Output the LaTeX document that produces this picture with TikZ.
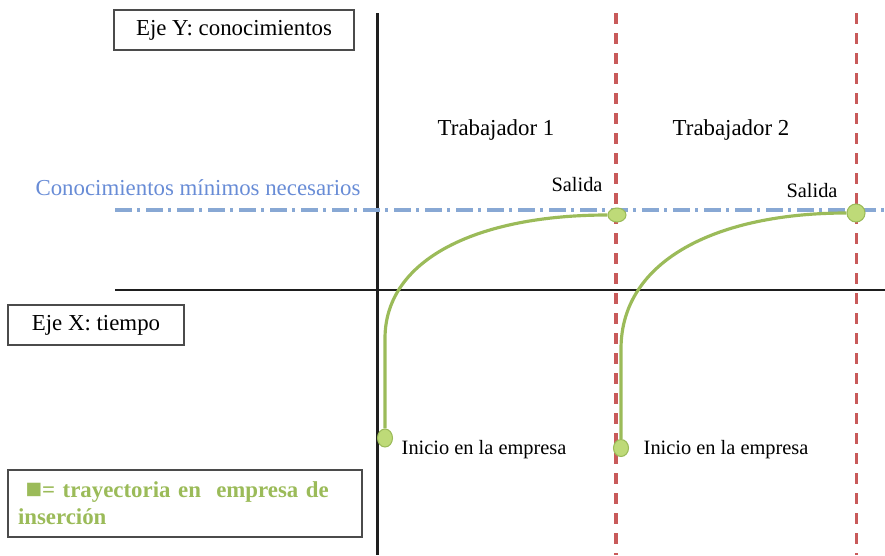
\documentclass[tikz,border=0pt]{standalone}
\usepackage{fontspec}
\setmainfont{Liberation Serif}
\newfontfamily\symfont{DejaVu Sans}
\usepackage{tikz}
\usetikzlibrary{%
  shapes, shapes.geometric, calc, positioning
}
\usepackage{xcolor}
\definecolor{ejenegro}{RGB}{30,30,30}
\definecolor{ejegris}{RGB}{75,75,75}
\definecolor{rojolim}{RGB}{200,90,90}
\definecolor{azulmin}{RGB}{136,168,212}
\definecolor{azultxt}{RGB}{104,140,214}
\definecolor{trayverde}{RGB}{155,187,89}
\definecolor{puntoverde}{RGB}{190,218,120}
\tikzstyle{ebox} = [%
  rectangle,
  draw=ejegris,
  line width=1.1pt,
  minimum height=0.8cm,
  inner sep=2pt,
  text centered
]
\tikzstyle{punto} = [%
  ellipse,
  draw=trayverde,
  fill=puntoverde,
  line width=0.6pt,
  inner sep=0pt
]

\begin{document}
\begin{tikzpicture}[%
  every node/.style={%
    font=\fontsize{13}{15.5}\selectfont,
    text=black,
    align=center
  },
  lbl/.style={font=\fontsize{11.6}{13}\selectfont},
  axis/.style={draw=ejenegro,line width=1.5pt},
  limite/.style={draw=rojolim,line width=2pt,dash pattern=on 0.22cm off 0.18cm},
  minimo/.style={draw=azulmin,line width=2.2pt,dash pattern=on 0.34cm off 0.1cm on 0.06cm off 0.12cm},
  tray/.style={draw=trayverde,line width=1.8pt}
]
  \useasboundingbox (0,0) rectangle (17.7,11.1);

  % Coordinates
  \coordinate (ytop) at (7.55,10.84);
  \coordinate (ybot) at (7.55,0);
  \coordinate (xleft) at (2.3,5.3);
  \coordinate (xright) at (17.7,5.3);
  \coordinate (r1top) at (12.32,10.84);
  \coordinate (r1bot) at (12.32,0);
  \coordinate (r2top) at (17.13,10.84);
  \coordinate (r2bot) at (17.13,0);
  \coordinate (bleft) at (2.3,6.9);
  \coordinate (bright) at (17.7,6.9);

  % Axes and limits
  \draw[axis] (ytop) -- (ybot);
  \draw[axis] (xleft) -- (xright);
  \draw[limite] (r1top) -- (r1bot);
  \draw[limite] (r2top) -- (r2bot);
  \draw[minimo] (bleft) -- (bright);

  % Boxes
  \node[ebox,minimum width=4.8cm] (ejeY) at (4.68,10.5) {Eje Y: conocimientos};
  \node[ebox,minimum width=3.52cm] (ejeX) at (1.92,4.6) {Eje X: tiempo};
  \node[ebox,text=trayverde,font=\bfseries\fontsize{13}{15.5}\selectfont,align=left,
        text width=6.68cm,inner xsep=0.2cm,minimum height=1.34cm] (leyenda) at (3.7,1.03)
        {\hspace{0.15cm}\raisebox{0.12em}{\symfont\fontsize{10}{10}\selectfont ■}= trayectoria en\ \ empresa de\\inserción};

  % Labels
  \node[text=azultxt] (minimos) at (3.96,7.34) {Conocimientos mínimos necesarios};
  \node (trab1) at (9.92,8.5) {Trabajador 1};
  \node (trab2) at (14.62,8.5) {Trabajador 2};

  % Nodes
  \node[punto,minimum width=0.3cm,minimum height=0.36cm] (I1) at (7.70,2.34) {};
  \node[punto,minimum width=0.36cm,minimum height=0.28cm] (S1) at (12.34,6.8) {};
  \node[punto,minimum width=0.3cm,minimum height=0.34cm] (I2) at (12.42,2.14) {};
  \node[punto,minimum width=0.36cm,minimum height=0.36cm] (S2) at (17.12,6.84) {};

  \node[lbl,right=0.05cm of I1,yshift=-0.24cm] (ini1) {Inicio en la empresa};
  \node[lbl,right=0.17cm of I2,yshift=-0.04cm] (ini2) {Inicio en la empresa};
  \node[lbl,above=0.2cm of S1,xshift=-0.8cm] (sal1) {Salida};
  \node[lbl,above=0cm of S2,xshift=-0.88cm] (sal2) {Salida};

  % Trajectories
  \draw[tray] (I1.north) -- ($(I1.north)+(0,1.8)$) .. controls +(0,1.6) and +(-2.58,0) .. (S1.west);
  \draw[tray] (I2.north) -- ($(I2.north)+(0,1.8)$) .. controls +(0,1.8) and +(-2.55,0) .. (S2.west);

\end{tikzpicture}
\end{document}
